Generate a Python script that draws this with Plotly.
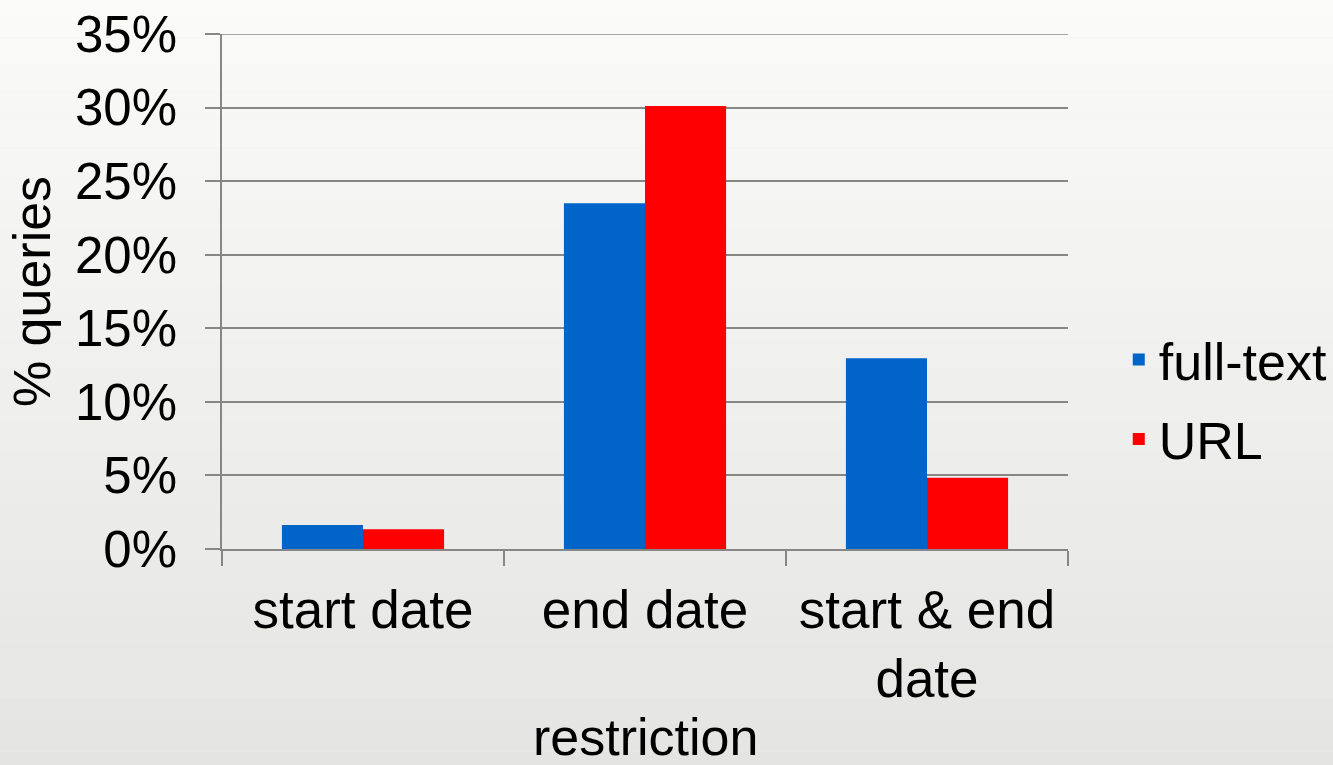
import plotly.graph_objects as go

categories = ["start date", "end date", "start & end<br>date"]
full_text = [0.0163, 0.235, 0.1297]
url = [0.0134, 0.301, 0.0485]
series_names = ["full-text", "URL"]
y_ticks = [0, 0.05, 0.10, 0.15, 0.20, 0.25, 0.30, 0.35]

FONT = "Liberation Sans, Arial, sans-serif"
GRID = "#878787"

fig = go.Figure()
fig.add_trace(go.Bar(x=categories, y=full_text, name=series_names[0], legendgroup="a",
                     marker=dict(color="#0064C8", line=dict(width=0))))
fig.add_trace(go.Bar(x=categories, y=url, name=series_names[1], legendgroup="b",
                     marker=dict(color="#FF0000", line=dict(width=0))))

# background gradient bands
shapes = []
n = 30
for i in range(n):
    t = i / (n - 1)
    c = int(251 - t * 23)
    shapes.append(dict(type="rect", xref="paper", yref="paper",
                       x0=-0.3, x1=1.35, y0=1.1 - (i + 1) * (1.6 / n), y1=1.1 - i * (1.6 / n),
                       fillcolor=f"rgb({c},{c},{c-1})", line=dict(width=0), layer="below"))
# top gridline (at the axis edge, which plotly does not draw as a grid line)
shapes.append(dict(type="line", xref="paper", yref="y", x0=-15 / 846, x1=1,
                   y0=y_ticks[-1], y1=y_ticks[-1], line=dict(color=GRID, width=1.5),
                   layer="below"))

fig.update_layout(
    width=1333, height=765,
    margin=dict(l=222, r=265, t=34, b=216, autoexpand=False),
    paper_bgcolor="#eeeeee", plot_bgcolor="rgba(0,0,0,0)",
    font=dict(family=FONT, size=52, color="black"),
    barmode="group", bargap=0.425, bargroupgap=0,
    shapes=shapes,
    legend=dict(x=1.06, y=0.29, xanchor="left", yanchor="middle",
                bgcolor="rgba(0,0,0,0)", font=dict(size=52),
                traceorder="grouped", tracegroupgap=9),
    showlegend=True,
    annotations=[dict(text="restriction", xref="paper", yref="paper",
                      x=0.5, y=-0.366, xanchor="center", yanchor="middle",
                      showarrow=False, font=dict(size=52))],
)
fig.update_yaxes(range=[0, 0.35], tickvals=y_ticks, tickformat=".0%",
                 showgrid=True, gridcolor=GRID, gridwidth=1.5,
                 showline=True, linecolor=GRID, linewidth=1.5,
                 ticks="outside", ticklen=15, tickcolor=GRID, tickwidth=1.5,
                 tickfont=dict(size=51),
                 ticklabelstandoff=18, zeroline=False, automargin=False,
                 title=dict(text="% queries", standoff=8, font=dict(size=52)))
fig.update_xaxes(showline=True, linecolor=GRID, linewidth=1.5,
                 ticks="outside", ticklen=15, tickcolor=GRID, tickwidth=1.5,
                 tickson="boundaries", showgrid=False, automargin=False,
                 tickfont=dict(size=53), ticklabelstandoff=14)

fig.write_html("out.html")
